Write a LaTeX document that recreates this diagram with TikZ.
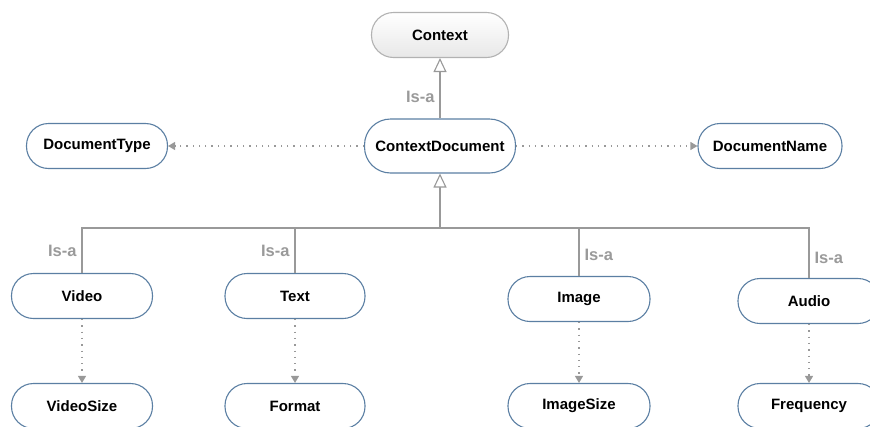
\documentclass[tikz,border=0pt]{standalone}
\usepackage{fontspec}
\setmainfont{Liberation Sans}
\usetikzlibrary{arrows.meta}

\definecolor{nodeblue}{HTML}{5B7FA3}
\definecolor{linegray}{HTML}{999999}
\definecolor{labelgray}{HTML}{9A9A9A}

\begin{document}
\begin{tikzpicture}[x=1pt, y=-1pt, font=\bfseries\fontsize{15}{18}\selectfont]
	\tikzstyle{concept} = [draw=nodeblue, line width=1.1pt, rounded corners=22pt,
	minimum width=141pt, minimum height=45pt, inner sep=0pt, fill=white]
	\tikzstyle{isa} = [draw=linegray, line width=1.1pt,
	-{Triangle[open, length=14pt, width=13pt, fill=white]}]
	\tikzstyle{link} = [draw=linegray, line width=1.1pt]
	\tikzstyle{has} = [draw=linegray, line width=1.2pt, dash pattern=on 1.3pt off 5pt,
	-{Triangle[length=7pt, width=8pt]}]
	\tikzstyle{isalabel} = [text=labelgray, inner sep=5pt,
	font=\bfseries\fontsize{16.5}{18}\selectfont]

	\useasboundingbox (0,0) rectangle (870,426);

	% top of the tree
	\node[concept, draw=gray!60, top color=white, bottom color=gray!18,
	minimum width=137pt] (ctx) at (440,35) {Context};
	\node[concept, minimum width=151pt, minimum height=54pt, rounded corners=26pt]
	(cdoc) at (440,146) {ContextDocument};
	\node[concept] (dtype) at (97,146) {DocumentType};
	\node[concept, minimum width=144pt] (dname) at (770,146) {DocumentName};

	% kinds of document
	\node[concept] (video) at (82,296) {Video};
	\node[concept, minimum width=140pt] (text) at (295,296) {Text};
	\node[concept, minimum width=142pt] (image) at (579,299) {Image};
	\node[concept, minimum width=142pt] (audio) at (809,301) {Audio};

	\node[concept] (vsize) at (82,406) {VideoSize};
	\node[concept, minimum width=140pt] (format) at (295,406) {Format};
	\node[concept, minimum width=142pt] (isize) at (579,406) {ImageSize};
	\node[concept, minimum width=142pt] (freq) at (809,406) {Frequency};

	\coordinate (bus) at (440,228);

	\draw[isa] (cdoc.north) -- node[isalabel, left, pos=0.35] (lblctx) {Is-a} (ctx.south);
	\draw[isa] (bus) -- (cdoc.south);
	\draw[link] (video.north) |- node[isalabel, left, pos=0.25] (lblvideo) {Is-a} (bus);
	\draw[link] (text.north) |- node[isalabel, left, pos=0.25] (lbltext) {Is-a} (bus);
	\draw[link] (image.north) |- node[isalabel, right, pos=0.22] (lblimage) {Is-a} (bus);
	\draw[link] (audio.north) |- node[isalabel, right, pos=0.2] (lblaudio) {Is-a} (bus);

	\draw[has] (cdoc.west) -- (dtype.east);
	\draw[has] (cdoc.east) -- (dname.west);
	\draw[has] (video.south) -- (vsize.north);
	\draw[has] (text.south) -- (format.north);
	\draw[has] (image.south) -- (isize.north);
	\draw[has] (audio.south) -- (freq.north);
\end{tikzpicture}
\end{document}
